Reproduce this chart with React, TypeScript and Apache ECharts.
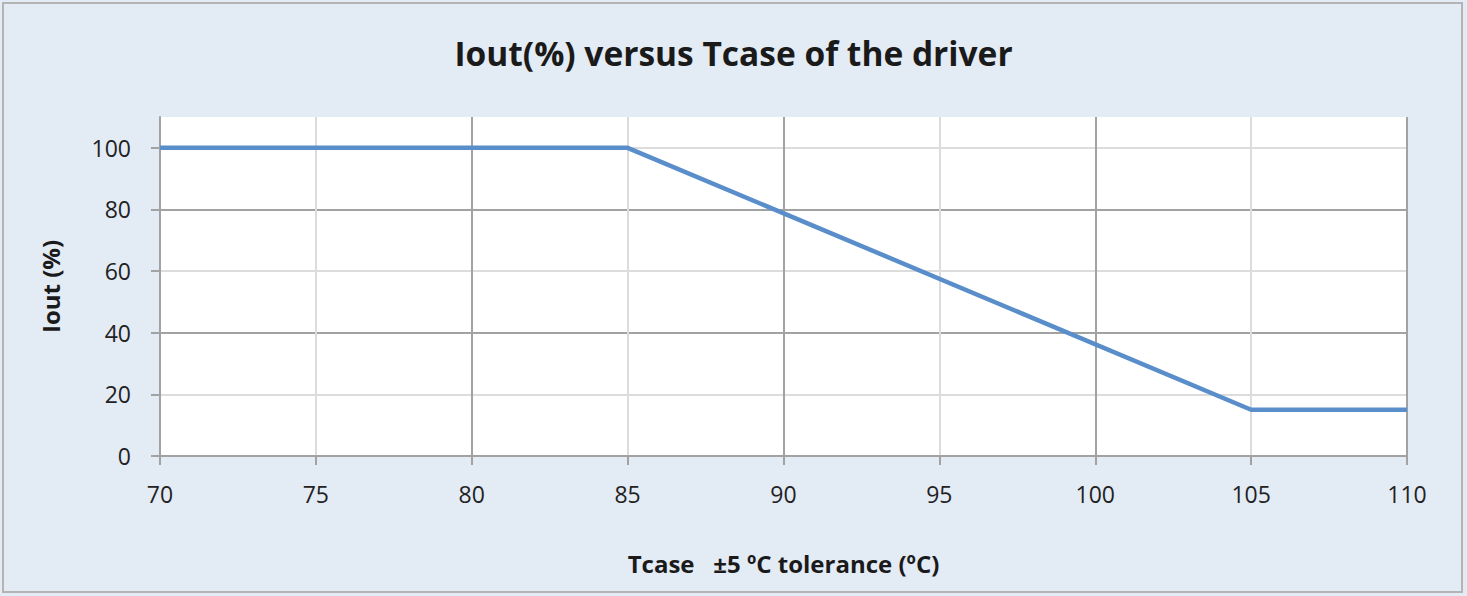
import React, { useEffect, useRef } from "react";
import * as echarts from "echarts";

const tcase = [70, 85, 105, 110];
const iout = [100, 100, 15, 15];
const xTicks = [70, 75, 80, 85, 90, 95, 100, 105, 110];
const yTicks = [0, 20, 40, 60, 80, 100];

const FONT = "'Open Sans', Lato, sans-serif";

export default function App() {
  const ref = useRef<HTMLDivElement>(null);
  useEffect(() => {
    if (!ref.current) return;
    const chart = echarts.init(ref.current, null, { renderer: "svg" });
    const major = "#a2a2a2";
    const minor = "#dcdcdc";
    chart.setOption({
      animation: false,
      backgroundColor: "#e3ebf5",
      graphic: [
        {
          type: "rect",
          shape: { x: 3, y: 3, width: 1459, height: 589 },
          style: { fill: "none", stroke: "#b4b4b4", lineWidth: 2 },
          silent: true,
        },
      ],
      title: {
        text: "Iout(%) versus Tcase of the driver",
        left: "center",
        top: 31,
        textStyle: { fontFamily: FONT, fontWeight: "bold", fontSize: 33.5, color: "#1a1a1a" },
      },
      grid: {
        left: 160,
        top: 117,
        right: 60,
        bottom: 140,
        show: true,
        backgroundColor: "#ffffff",
        borderWidth: 0,
      },
      xAxis: {
        type: "value",
        min: 70,
        max: 110,
        interval: 2.5,
        name: "Tcase   ±5 ºC tolerance (ºC)",
        nameLocation: "middle",
        nameGap: 95,
        nameTextStyle: { fontFamily: FONT, fontWeight: "bold", fontSize: 24, color: "#1a1a1a" },
        axisLine: { show: true, lineStyle: { color: major, width: 2 } },
        axisTick: { show: true, length: 9, customValues: xTicks, lineStyle: { color: major, width: 2 } },
        axisLabel: {
          customValues: xTicks,
          margin: 26,
          fontFamily: FONT,
          fontSize: 23,
          color: "#222222",
        },
        splitLine: { show: true, lineStyle: { color: [major, minor], width: 2 } },
      },
      yAxis: {
        type: "value",
        min: 0,
        max: 110,
        interval: 10,
        name: "Iout (%)",
        nameLocation: "middle",
        nameRotate: 90,
        nameGap: 98,
        nameTextStyle: { fontFamily: FONT, fontWeight: "bold", fontSize: 24, color: "#1a1a1a" },
        axisLine: { show: true, lineStyle: { color: major, width: 2 } },
        axisTick: { show: true, length: 9, customValues: yTicks, lineStyle: { color: major, width: 2 } },
        axisLabel: {
          customValues: yTicks,
          margin: 29,
          fontFamily: FONT,
          fontSize: 23,
          color: "#222222",
        },
        splitLine: { show: true, lineStyle: { color: [major, minor], width: 2 } },
      },
      series: [
        {
          type: "line",
          data: tcase.map((t, i) => [t, iout[i]]),
          showSymbol: false,
          lineStyle: { color: "#5a8ecb", width: 4.5 },
          itemStyle: { color: "#5a8ecb" },
        },
      ],
    });
    return () => chart.dispose();
  }, []);
  return (
    <div
      ref={ref}
      style={{ position: "fixed", left: 0, top: 0, width: 1467, height: 596 }}
    />
  );
}
